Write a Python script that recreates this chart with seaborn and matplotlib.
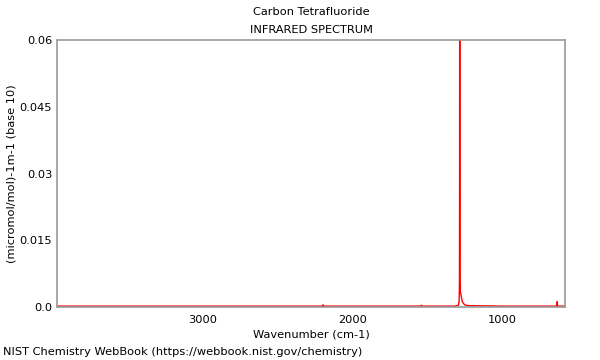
import matplotlib
matplotlib.use("Agg")
import matplotlib.pyplot as plt
import seaborn as sns
import pandas as pd
from matplotlib.ticker import MultipleLocator

# Spectrum data
wavenumber = [3980, 2400, 2200, 2197, 2194, 2000, 1545, 1540, 1535, 1320, 1295, 1290,
              1287, 1285, 1284, 1283, 1282, 1281, 1279, 1276, 1272, 1266, 1258, 1250,
              1230, 1000, 640, 633, 631, 629, 580]
absorbance = [0.0002, 0.0002, 0.0002, 0.0005, 0.0002, 0.0002, 0.0002, 0.0004, 0.0002, 0.0002,
              0.0003, 0.0006, 0.0015, 0.005, 0.0315, 0.095, 0.0315, 0.006, 0.0035, 0.003,
              0.0022, 0.0012, 0.0008, 0.0005, 0.0003, 0.0002, 0.0002, 0.0002, 0.0012, 0.0002,
              0.0002]

title_lines = ["Carbon Tetrafluoride", "INFRARED SPECTRUM"]
x_label = "Wavenumber (cm-1)"
y_label = "(micromol/mol)-1m-1 (base 10)"
footer = "NIST Chemistry WebBook (https://webbook.nist.gov/chemistry)"
y_ticks = [0.0, 0.015, 0.03, 0.045, 0.06]
y_tick_labels = ["0.0", "0.015", "0.03", "0.045", "0.06"]
x_ticks = [3000, 2000, 1000]

sns.set_style("white")
plt.rcParams['font.family'] = ['DejaVu Sans']
plt.rcParams['text.color'] = 'black'
plt.rcParams['axes.labelcolor'] = 'black'

FS = 8.2
df = pd.DataFrame({"wn": wavenumber, "ab": absorbance})

fig = plt.figure(figsize=(6, 3.6), dpi=100)
ax = fig.add_axes([57/600, 53/360, 508/600, 267/360])
sns.lineplot(data=df, x="wn", y="ab", ax=ax, color="red", linewidth=1.0)

ax.set_xlim(3977, 579)
ax.set_ylim(0, 0.06)
ax.set_xticks(x_ticks)
ax.set_xticklabels([str(t) for t in x_ticks])
ax.set_yticks(y_ticks)
ax.set_yticklabels(y_tick_labels)
ax.xaxis.set_minor_locator(MultipleLocator(100))
ax.yaxis.set_minor_locator(MultipleLocator(0.0075))
ax.tick_params(which="both", direction="in", colors="#333333", labelcolor="black", labelsize=FS)
ax.tick_params(which="major", length=5, width=0.8)
ax.tick_params(which="minor", length=3, width=0.6)
ax.tick_params(axis="x", which="major", pad=6)
ax.set_xlabel(x_label, fontsize=FS, labelpad=3)
ax.set_ylabel(y_label, fontsize=FS, labelpad=2)
for s in ax.spines.values():
    s.set_color("#999999")
    s.set_linewidth(1.2)

fig.text(311/600, 1 - 12/360, title_lines[0], ha="center", va="center", fontsize=FS)
fig.text(311/600, 1 - 30/360, title_lines[1], ha="center", va="center", fontsize=FS)
fig.text(3/600, 1 - 352/360, footer, ha="left", va="center", fontsize=FS)

fig.savefig("out.png", dpi=100)
